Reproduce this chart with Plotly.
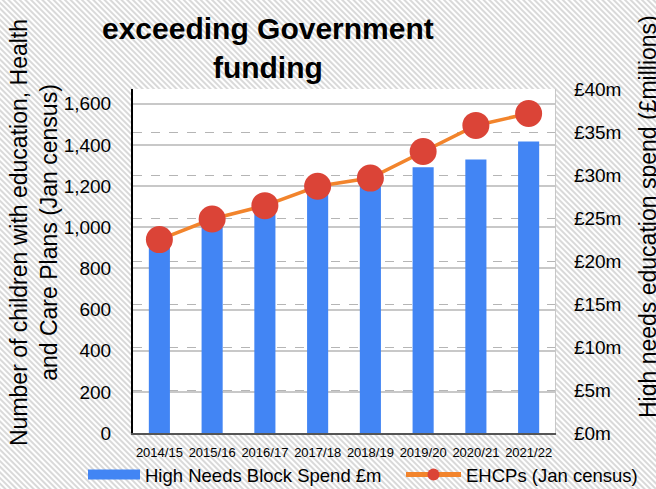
import base64
import plotly.graph_objects as go

# ---- data ----
years = ["2014/15", "2015/16", "2016/17", "2017/18", "2018/19", "2019/20", "2020/21", "2021/22"]
spend_m = [22.0, 24.5, 26.0, 28.0, 29.5, 30.9, 31.8, 33.9]          # High Needs Block Spend £m (right axis)
ehcps = [940, 1040, 1105, 1199, 1239, 1368, 1495, 1553]             # EHCPs (Jan census) (left axis)
spend_tickvals = [0, 5, 10, 15, 20, 25, 30, 35, 40]
spend_ticktext = ["£0m", "£5m", "£10m", "£15m", "£20m", "£25m", "£30m", "£35m", "£40m"]
ehcp_tickvals = [0, 200, 400, 600, 800, 1000, 1200, 1400, 1600]

W, H = 656, 489
L, R, T, B = 133, 101, 89, 56
PW, PH = W - L - R, H - T - B

FONT = "Liberation Sans, Arial, sans-serif"
BLUE = "#4285F4"
RED = "#DB4437"
ORANGE = "#F2842C"

# striped page background
svg = (
    f"<svg xmlns='http://www.w3.org/2000/svg' width='{W}' height='{H}'>"
    "<defs><pattern id='p' width='4' height='4' patternUnits='userSpaceOnUse' "
    "patternTransform='rotate(-45)'>"
    "<rect width='4' height='4' fill='white'/>"
    "<line x1='2' y1='0' x2='2' y2='4' stroke='#c9c9c9' stroke-width='1.4'/>"
    "</pattern></defs>"
    f"<rect width='{W}' height='{H}' fill='url(#p)'/></svg>"
)
bg_src = "data:image/svg+xml;base64," + base64.b64encode(svg.encode()).decode()

fig = go.Figure()
fig.add_trace(go.Bar(
    x=years, y=spend_m, yaxis="y", marker=dict(color=BLUE, line=dict(width=0)),
    width=0.4, name="High Needs Block Spend £m", showlegend=False,
))
# legend proxy for the bars (wide blue swatch)
fig.add_trace(go.Scatter(
    x=[None], y=[None], mode="lines", line=dict(color=BLUE, width=10),
    name="High Needs Block Spend £m", yaxis="y", legend="legend",
))
fig.add_trace(go.Scatter(
    x=years, y=ehcps, yaxis="y2", mode="lines+markers",
    line=dict(color=ORANGE, width=3.5),
    marker=dict(color=RED, size=27, line=dict(width=0)),
    name="EHCPs (Jan census)", legend="legend2",
))

leg_common = dict(
    orientation="h", xref="container", yref="container",
    xanchor="left", y=(H - 475) / H, yanchor="middle",
    bgcolor="rgba(0,0,0,0)", font=dict(size=18.5, family=FONT, color="#000"),
)

fig.update_layout(
    width=W, height=H,
    margin=dict(l=L, r=R, t=T, b=B, autoexpand=False),
    paper_bgcolor="white", plot_bgcolor="white",
    font=dict(family=FONT, color="#000000"),
    xaxis=dict(
        type="category", range=[-0.5, 7.5],
        showline=True, linecolor="#555555", linewidth=1.5,
        showgrid=False, ticks="outside", ticklen=7, tickcolor="rgba(0,0,0,0)",
        tickfont=dict(size=13, family=FONT, color="#000"),
    ),
    yaxis=dict(
        side="right", range=[0, 40],
        tickvals=spend_tickvals, ticktext=spend_ticktext,
        showgrid=True, gridcolor="#b5b5b5", gridwidth=1.2, griddash="dash",
        showline=True, linecolor="#c8c8c8", linewidth=1.2,
        ticks="outside", ticklen=14, tickcolor="rgba(0,0,0,0)",
        tickfont=dict(size=19, family=FONT, color="#000"),
        zeroline=False,
    ),
    yaxis2=dict(
        overlaying="y", side="left", range=[0, 1672],
        tickvals=ehcp_tickvals, tickformat=",",
        showgrid=True, gridcolor="#c8c8c8", gridwidth=1.5,
        showline=True, linecolor="#000000", linewidth=2,
        ticks="outside", ticklen=16, tickcolor="rgba(0,0,0,0)",
        tickfont=dict(size=19, family=FONT, color="#000"),
        zeroline=False,
    ),
    legend=dict(x=83 / W, itemwidth=52, **leg_common),
    legend2=dict(x=401 / W, itemwidth=55, itemsizing="constant", **leg_common),
    images=[dict(
        source=bg_src, xref="paper", yref="paper",
        x=-L / PW, y=1 + T / PH, sizex=W / PW, sizey=H / PH,
        xanchor="left", yanchor="top", sizing="stretch", layer="below",
    )],
    shapes=[dict(
        type="rect", xref="paper", yref="paper", x0=0, x1=1, y0=0, y1=1,
        fillcolor="white", line=dict(width=0), layer="below",
    )],
    annotations=[
        dict(
            text="<b>EHCP growth and High Needs spending</b>",
            xref="paper", yref="paper", x=(268 - L) / PW, y=1 + (T + 21) / PH,
            xanchor="center", yanchor="middle", showarrow=False, align="center",
            font=dict(size=30, family=FONT, color="#000"),
        ),
        dict(
            text="<b>exceeding Government<br>funding</b>",
            xref="paper", yref="paper", x=(268 - L) / PW, y=1 + (T - 48) / PH,
            xanchor="center", yanchor="middle", showarrow=False, align="center",
            font=dict(size=30, family=FONT, color="#000"),
        ),
        dict(
            text="Number of children with education, Health<br>and Care Plans (Jan census)",
            xref="paper", yref="paper", x=(34 - L) / PW, y=(T + PH - 233) / PH,
            xanchor="center", yanchor="middle", showarrow=False, align="center",
            textangle=-90, font=dict(size=23, family=FONT, color="#000"),
        ),
        dict(
            text="High needs education spend (£millions)",
            xref="paper", yref="paper", x=(648 - L) / PW, y=(T + PH - 217) / PH,
            xanchor="center", yanchor="middle", showarrow=False, align="center",
            textangle=-90, font=dict(size=23, family=FONT, color="#000"),
        ),
    ],
)

fig.write_html("out.html")
